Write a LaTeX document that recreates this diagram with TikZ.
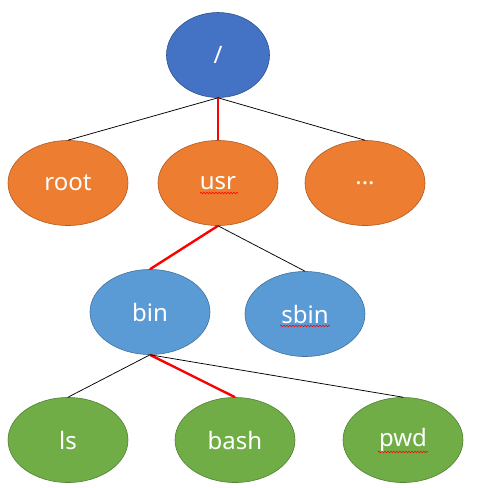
\documentclass[tikz,border=0pt]{standalone}
\usepackage{fontspec}
\setmainfont{Noto Sans}
\usetikzlibrary{shapes.geometric,decorations.pathmorphing}
\definecolor{cblue}{HTML}{4472C4}\definecolor{cblueB}{HTML}{2F528F}
\definecolor{corange}{HTML}{ED7D31}\definecolor{corangeB}{HTML}{AE5A21}
\definecolor{clblue}{HTML}{5B9BD5}\definecolor{clblueB}{HTML}{41719C}
\definecolor{cgreen}{HTML}{70AD47}\definecolor{cgreenB}{HTML}{507E32}
\tikzset{
  ell/.style={ellipse, minimum width=120pt, minimum height=85pt, inner sep=0pt, line width=0.6pt, text=white, font=\fontsize{24}{28}\selectfont},
  rootn/.style={ell, fill=cblue, draw=cblueB, minimum width=103pt},
  lvl1/.style={ell, fill=corange, draw=corangeB},
  lvl2/.style={ell, fill=clblue, draw=clblueB},
  lvl3/.style={ell, fill=cgreen, draw=cgreenB},
  thin/.style={draw=black, line width=0.75pt},
  hot/.style={draw=red, line width=2.4pt},
  squig/.style={draw=red, line width=0.5pt, decorate, decoration={snake, amplitude=0.9pt, segment length=3pt}}
}
\begin{document}
\begin{tikzpicture}[x=1pt,y=-1pt]
\useasboundingbox (0,0) rectangle (483,488);
\node[rootn] (r) at (218,55) {/};
\node[lvl1] (root) at (68,183) {root};
\node[lvl1] (usr) at (218,183) {usr};
\node[lvl1] (dots) at (365,183) {...};
\node[lvl2] (bin) at (150,312) {bin};
\node[lvl2] (sbin) at (305,314) {sbin};
\node[lvl3] (ls) at (68,440) {ls};
\node[lvl3] (bash) at (235,440) {bash};
\node[lvl3] (pwd) at (403,440) {pwd};
\draw[thin] (r.south) -- (root.north);
\draw[thin] (r.south) -- (dots.north);
\draw[hot] (r.south) -- (usr.north);
\draw[hot] (usr.south) -- (bin.north);
\draw[thin] (usr.south) -- (sbin.north);
\draw[thin] (bin.south) -- (ls.north);
\draw[hot] (bin.south) -- (bash.north);
\draw[thin] (bin.south) -- (pwd.north);
\draw[squig] (200,193) -- (238,193);
\draw[squig] (280,326) -- (330,326);
\draw[squig] (378,452) -- (428,452);
\end{tikzpicture}
\end{document}
